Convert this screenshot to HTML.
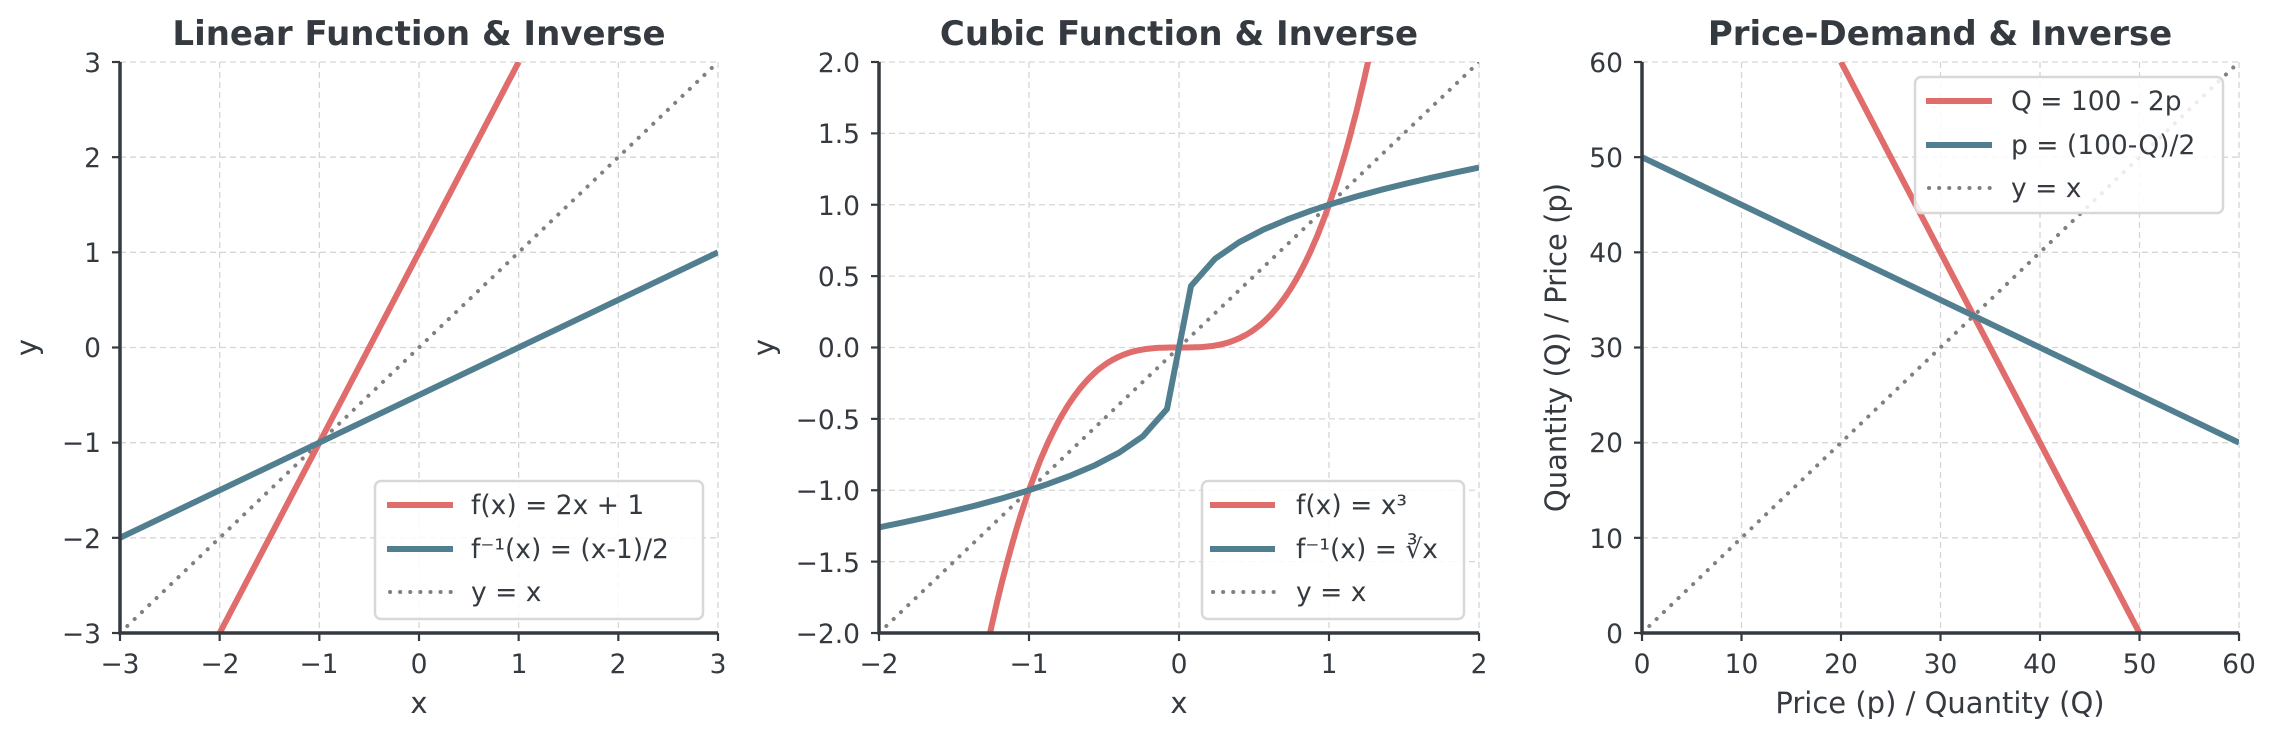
<!DOCTYPE html>
<html><head><meta charset="utf-8"><style>
html,body{margin:0;padding:0;background:#fff;}
svg{display:block;font-family:"DejaVu Sans","Liberation Sans",sans-serif;}
.t{font-size:26.5px;fill:#343a40;}
.al{font-size:29px;fill:#343a40;}
.ti{font-size:34px;font-weight:bold;fill:#343a40;}
.lg{font-size:26.5px;fill:#343a40;}
.g{stroke:#d6d6d6;stroke-width:1.3;stroke-dasharray:6,4;}
.sp{stroke:#343a40;stroke-width:3.5;fill:none;}
.tk{stroke:#343a40;stroke-width:2.2;}
.r{stroke:#e06c6c;stroke-width:6;fill:none;}
.b{stroke:#527f90;stroke-width:6;fill:none;}
.d{stroke:#808080;stroke-width:4;stroke-dasharray:0.1,10;stroke-linecap:round;fill:none;}
</style></head><body>
<svg id="s" width="2277" height="738" viewBox="0 0 2277 738">
<defs>
<clipPath id="c1"><rect x="120" y="62" width="598" height="571"/></clipPath>
<clipPath id="c2"><rect x="879" y="62" width="600" height="571"/></clipPath>
<clipPath id="c3"><rect x="1642" y="62" width="597" height="571"/></clipPath>
</defs>
<g id="grids"></g>
<text class="ti" x="419" y="45" text-anchor="middle">Linear Function &amp; Inverse</text>
<text class="ti" x="1179" y="45" text-anchor="middle">Cubic Function &amp; Inverse</text>
<text class="ti" x="1940" y="45" text-anchor="middle">Price-Demand &amp; Inverse</text>
<g clip-path="url(#c1)">
<line class="d" x1="120" y1="633" x2="718" y2="62"/>
<line class="r" x1="219.7" y1="633" x2="518.7" y2="62"/>
<line class="b" x1="120" y1="537.8" x2="718" y2="252.3"/>
</g>
<g clip-path="url(#c2)">
<line class="d" x1="879" y1="633" x2="1479" y2="62"/>
<path id="cube" class="r"/>
<path id="cbrt" class="b" stroke-linejoin="round"/>
</g>
<g clip-path="url(#c3)">
<line class="d" x1="1642" y1="633" x2="2239" y2="62"/>
<line class="r" x1="1841" y1="62" x2="2139.5" y2="633"/>
<line class="b" x1="1642" y1="157.2" x2="2239" y2="442.7"/>
</g>
<polyline class="sp" points="120,62 120,633 718,633"/>
<polyline class="sp" points="879,62 879,633 1479,633"/>
<polyline class="sp" points="1642,62 1642,633 2239,633"/>
<g id="ticks"></g>
<g class="t" text-anchor="end">
<text x="101" y="72">3</text><text x="101" y="167">2</text><text x="101" y="262">1</text><text x="101" y="357">0</text><text x="101" y="452">−1</text><text x="101" y="548">−2</text><text x="101" y="643">−3</text>
<text x="860" y="72">2.0</text><text x="860" y="143">1.5</text><text x="860" y="215">1.0</text><text x="860" y="286">0.5</text><text x="860" y="357">0.0</text><text x="860" y="429">−0.5</text><text x="860" y="500">−1.0</text><text x="860" y="572">−1.5</text><text x="860" y="643">−2.0</text>
<text x="1623" y="72">60</text><text x="1623" y="167">50</text><text x="1623" y="262">40</text><text x="1623" y="357">30</text><text x="1623" y="452">20</text><text x="1623" y="548">10</text><text x="1623" y="643">0</text>
</g>
<g class="t" text-anchor="middle">
<text x="120" y="673">−3</text><text x="220" y="673">−2</text><text x="319" y="673">−1</text><text x="419" y="673">0</text><text x="519" y="673">1</text><text x="618" y="673">2</text><text x="718" y="673">3</text>
<text x="879" y="673">−2</text><text x="1029" y="673">−1</text><text x="1179" y="673">0</text><text x="1329" y="673">1</text><text x="1479" y="673">2</text>
<text x="1642" y="673">0</text><text x="1741.5" y="673">10</text><text x="1841" y="673">20</text><text x="1940.5" y="673">30</text><text x="2040" y="673">40</text><text x="2139.5" y="673">50</text><text x="2239" y="673">60</text>
</g>
<g class="al" text-anchor="middle">
<text x="419" y="713">x</text><text x="1179" y="713">x</text><text x="1940" y="713">Price (p) / Quantity (Q)</text>
</g>
<text class="al" transform="translate(37,347.5) rotate(-90)" text-anchor="middle">y</text>
<text class="al" transform="translate(774,347.5) rotate(-90)" text-anchor="middle">y</text>
<text class="al" transform="translate(1566,347.5) rotate(-90)" text-anchor="middle">Quantity (Q) / Price (p)</text>
<g>
<rect x="375" y="481" width="328" height="138" rx="6" fill="#fff" fill-opacity="0.85" stroke="#d8d8d8" stroke-width="2.5"/>
<line class="r" x1="387" y1="505" x2="453" y2="505"/><text class="lg" x="471" y="514">f(x) = 2x + 1</text>
<line class="b" x1="387" y1="549" x2="453" y2="549"/><text class="lg" x="471" y="558">f⁻¹(x) = (x-1)/2</text>
<line class="d" x1="390" y1="592" x2="453" y2="592"/><text class="lg" x="471" y="601">y = x</text>
</g>
<g>
<rect x="1202" y="481" width="262" height="138" rx="6" fill="#fff" fill-opacity="0.85" stroke="#d8d8d8" stroke-width="2.5"/>
<line class="r" x1="1210" y1="505" x2="1275" y2="505"/><text class="lg" x="1296" y="514">f(x) = x³</text>
<line class="b" x1="1210" y1="549" x2="1275" y2="549"/><text class="lg" x="1296" y="558">f⁻¹(x) = ∛x</text>
<line class="d" x1="1213" y1="592" x2="1275" y2="592"/><text class="lg" x="1296" y="601">y = x</text>
</g>
<g>
<rect x="1915" y="77" width="308" height="136" rx="6" fill="#fff" fill-opacity="0.85" stroke="#d8d8d8" stroke-width="2.5"/>
<line class="r" x1="1926" y1="101" x2="1992" y2="101"/><text class="lg" x="2011" y="110">Q = 100 - 2p</text>
<line class="b" x1="1926" y1="145" x2="1992" y2="145"/><text class="lg" x="2011" y="154">p = (100-Q)/2</text>
<line class="d" x1="1929" y1="188" x2="1992" y2="188"/><text class="lg" x="2011" y="197">y = x</text>
</g>
</svg>
<script>
var NS="http://www.w3.org/2000/svg";
function ln(p,a){var e=document.createElementNS(NS,"line");for(var k in a)e.setAttribute(k,a[k]);p.appendChild(e);}
var G=document.getElementById("grids"),T=document.getElementById("ticks");
var panels=[
 {x0:120,x1:718,xs:[-3,-2,-1,0,1,2,3],xmin:-3,xmax:3,ys:[-3,-2,-1,0,1,2,3],ymin:-3,ymax:3},
 {x0:879,x1:1479,xs:[-2,-1,0,1,2],xmin:-2,xmax:2,ys:[-2,-1.5,-1,-0.5,0,0.5,1,1.5,2],ymin:-2,ymax:2},
 {x0:1642,x1:2239,xs:[0,10,20,30,40,50,60],xmin:0,xmax:60,ys:[0,10,20,30,40,50,60],ymin:0,ymax:60}];
panels.forEach(function(p){
 p.xs.forEach(function(v){var X=p.x0+(v-p.xmin)/(p.xmax-p.xmin)*(p.x1-p.x0);
  ln(G,{class:"g",x1:X,y1:62,x2:X,y2:633});ln(T,{class:"tk",x1:X,y1:633,x2:X,y2:641});});
 p.ys.forEach(function(v){var Y=633-(v-p.ymin)/(p.ymax-p.ymin)*571;
  ln(G,{class:"g",x1:p.x0,y1:Y,x2:p.x1,y2:Y});ln(T,{class:"tk",x1:p.x0-8,y1:Y,x2:p.x0,y2:Y});});
});
function X2(x){return 1179+150*x;} function Y2(y){return 347.5-142.75*y;}
var d="";for(var i=0;i<=200;i++){var x=-1.3+2.6*i/200;d+=(i?"L":"M")+X2(x).toFixed(1)+","+Y2(x*x*x).toFixed(1);}
document.getElementById("cube").setAttribute("d",d);
d="";for(var i=0;i<26;i++){var x=-2+4*i/25;var c=Math.sign(x)*Math.pow(Math.abs(x),1/3);d+=(i?"L":"M")+X2(x).toFixed(1)+","+Y2(c).toFixed(1);}
document.getElementById("cbrt").setAttribute("d",d);
</script>
</body></html>
